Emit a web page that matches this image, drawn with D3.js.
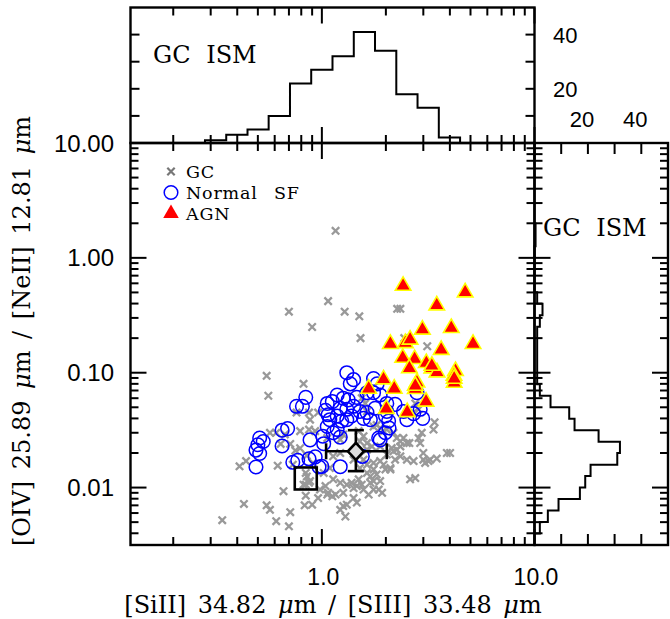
<!DOCTYPE html>
<html><head><meta charset="utf-8">
<script src="https://cdn.jsdelivr.net/npm/d3@7"></script>
<style>body{margin:0;background:#fff}</style>
</head><body><svg id="c" width="670" height="619"></svg>
<script>
// ---------------- data (ratios) ----------------
const gcPoints = [
[1.16,1.72],[1.07,0.42],[0.70,0.34],[1.28,0.34],[1.50,0.31],[0.90,0.25],[1.52,0.20],[2.26,0.36],[2.34,0.36],[3.13,0.17],
[2.44,0.20],[0.55,0.094],[0.56,0.063],[0.82,0.080],[0.87,0.045],[1.54,0.060],[1.60,0.054],[1.63,0.046],[2.75,0.054],[2.85,0.048],
[2.70,0.045],[3.39,0.037],[3.35,0.032],[0.76,0.045],[0.96,0.045],[0.88,0.039],[0.79,0.031],[0.87,0.032],[0.93,0.031],[0.61,0.030],
[0.67,0.029],[0.64,0.024],[0.71,0.024],[0.75,0.021],[0.79,0.022],[0.85,0.019],[0.57,0.030],[0.41,0.0153],[0.44,0.017],[0.62,0.0155],
[0.73,0.0158],[0.91,0.0164],[0.84,0.0134],[1.02,0.0134],[1.09,0.0148],[0.85,0.0125],[0.88,0.0114],[0.84,0.0106],[0.66,0.0093],[0.84,0.0085],
[0.98,0.0096],[1.04,0.0103],[1.07,0.0090],[0.96,0.0081],[1.06,0.0087],[1.12,0.0084],[1.13,0.0118],[1.22,0.0110],[1.31,0.0106],[0.43,0.0072],
[0.55,0.0070],[0.57,0.0064],[0.71,0.0061],[0.34,0.0052],[0.61,0.0051],[0.70,0.0046],[0.83,0.0070],[0.90,0.0071],[1.26,0.0069],[1.22,0.0064],
[1.31,0.0071],[1.29,0.0056],[1.41,0.0081],[1.46,0.0074],[1.38,0.0110],[1.46,0.0103],[1.54,0.0106],[1.49,0.0118],[1.57,0.0096],[1.41,0.0099],
[1.69,0.0125],[1.81,0.0130],[1.75,0.0114],[1.66,0.0087],[1.92,0.0090],[1.75,0.0096],[1.99,0.0144],[2.10,0.0148],[1.63,0.0158],[1.51,0.0148],
[1.75,0.034],[1.88,0.033],[2.02,0.032],[2.17,0.030],[2.25,0.027],[2.34,0.0252],[2.42,0.027],[2.51,0.0244],[2.34,0.0228],[2.25,0.0214],
[2.02,0.0194],[2.17,0.0207],[2.34,0.0187],[2.51,0.0175],[2.70,0.0170],[2.60,0.0118],[2.75,0.0121],[3.00,0.0175],[3.23,0.0175],[3.47,0.0179],
[2.85,0.027],[2.95,0.030],[2.90,0.0244],[3.87,0.020],[4.01,0.020],[1.26,0.029],[1.22,0.0261],[1.49,0.031],[1.57,0.028],[1.51,0.0252],
[1.63,0.0244],[1.06,0.027],[1.88,0.0228],[1.95,0.0158],[2.58,0.0244],[2.13,0.0221],[2.21,0.0175],[1.88,0.0170],[1.75,0.0164],[3.00,0.020],
[3.17,0.0170],[3.06,0.0164],[2.10,0.0144],[1.75,0.0144],[1.63,0.0134],[1.88,0.0114],[1.69,0.0110],[1.85,0.0096],[1.16,0.0087],[1.26,0.0090],
[1.63,0.0214],[1.72,0.0228],[1.81,0.035],[1.95,0.031],[1.22,0.020],[1.13,0.0187],[1.41,0.0175],[1.57,0.0175],[1.51,0.0187],[0.82,0.0106],
[0.87,0.0110]
];
const sfPoints = [
[0.49,0.0151],[0.49,0.0212],[0.51,0.0198],[0.50,0.0236],[0.51,0.027],[0.53,0.0252],[0.65,0.0316],[0.69,0.0326],[0.65,0.0230],[0.73,0.0166],
[0.77,0.0173],[0.87,0.0178],[0.93,0.0185],[0.97,0.0151],[0.88,0.026],[1.01,0.028],[1.02,0.0241],[0.76,0.051],[0.81,0.051],[0.84,0.061],
[1.06,0.054],[1.04,0.047],[1.07,0.043],[1.09,0.039],[1.12,0.056],[1.18,0.064],[1.26,0.060],[1.33,0.058],[1.46,0.061],[1.22,0.049],
[1.31,0.048],[1.41,0.051],[1.51,0.046],[1.63,0.045],[1.18,0.042],[1.24,0.038],[1.31,0.039],[1.38,0.042],[1.69,0.039],[1.57,0.040],
[1.75,0.067],[1.88,0.064],[1.78,0.049],[2.02,0.046],[2.21,0.053],[1.99,0.042],[2.06,0.038],[1.18,0.032],[1.13,0.030],[1.22,0.0275],
[1.88,0.026],[1.99,0.030],[2.07,0.033],[1.55,0.0187],[2.42,0.046],[2.70,0.044],[2.98,0.040],[2.90,0.048],[1.63,0.067],[1.31,0.100],
[1.41,0.087],[1.36,0.080],[1.75,0.089],[1.82,0.080],[1.22,0.0152],[1.00,0.0153],[2.51,0.039],[2.80,0.067],[2.02,0.054],[1.06,0.034],
[1.85,0.027]
];
const agnPoints = [
[2.41,0.571],[4.72,0.501],[3.47,0.386],[2.97,0.237],[4.06,0.245],[2.10,0.178],[2.47,0.181],[2.60,0.194],[3.64,0.158],[5.14,0.178],
[2.40,0.135],[2.73,0.1315],[2.58,0.1094],[3.10,0.1213],[3.29,0.109],[3.48,0.1007],[4.25,0.1035],[4.18,0.0942],[4.19,0.0818],[1.95,0.0875],
[2.80,0.0822],[2.75,0.0721],[2.19,0.0726],[1.66,0.0726],[3.09,0.056],[2.01,0.0484],[2.52,0.0454],[2.75,0.077],[3.29,0.115],[4.19,0.0887]
];
// mean GC value with spread (x, y, xLow, xHigh, yLow, yHigh)
const gcMean = [1.445, 0.0207, 1.047, 2.02, 0.0139, 0.0316];
const squarePoint = [0.84, 0.012];

// top histogram ([SiII]/[SIII] of GC ISM)
const topBinEdges = [0.282,0.355,0.447,0.562,0.708,0.891,1.122,1.413,1.778,2.239,2.818,3.548,4.467];
const topCounts   = [1,3,5,10,22,27,32,41,34,18,13,2];
// right histogram ([OIV]/[NeII] of GC ISM), edges from top to bottom
const rightBinEdges = [1.995,1.585,1.259,1.0,0.794,0.631,0.501,0.398,0.316,0.251,0.200,0.158,0.126,0.100,
  0.0794,0.0631,0.0501,0.0398,0.0316,0.0251,0.0200,0.0158,0.0126,0.0100,0.00794,0.00631,0.00501,0.00398];
const rightCounts = [0.4,0.4,0,0,0,0,1,3,2,1,1,1,1,1,2,6,13,15,24,32,31,21,19,17,9,5,2];

const xTickValues = [1, 10];
const xTickLabels = ["1.0", "10.0"];
const yTickValues = [0.01, 0.1, 1, 10];
const yTickLabels = ["0.01", "0.10", "1.00", "10.00"];
const countTickValues = [10, 20, 30, 40];
const countLabelValues = [20, 40];
const countLabels = ["20", "40"];
const legendLabels = ["GC", "Normal SF", "AGN"];
const histLabel = "GC ISM";

// ---------------- layout ----------------
const M = {l:130.5, r:534.5, t:143, b:545};
const TOPY = 7.5, RIGHTX = 668;
const svg = d3.select('#c');

const x = d3.scaleLog().domain([0.1259, 10]).range([M.l, M.r]);
const y = d3.scaleLog().domain([0.003162, 10]).range([M.b, M.t]);
const hTop = d3.scaleLinear().domain([0, 50]).range([M.t, TOPY]);
const hRight = d3.scaleLinear().domain([0, 50]).range([M.r, RIGHTX]);

const SANS = "'Liberation Sans', Arial, sans-serif";
const SERIF = "'DejaVu Serif', serif";
const isMajor = v => Math.abs(Math.log10(v) - Math.round(Math.log10(v))) < 1e-9;

const gT = svg.append('g').attr('stroke', '#000').attr('stroke-width', 2);
function tl(x1, y1, x2, y2) { gT.append('line').attr('x1', x1).attr('y1', y1).attr('x2', x2).attr('y2', y2); }

// log x ticks
x.ticks().forEach(v => {
  const L = isMajor(v) ? 16 : 8, p = x(v);
  tl(p, M.b, p, M.b - L); tl(p, M.t, p, M.t + L);
  tl(p, M.t, p, M.t - L); tl(p, TOPY, p, TOPY + L);
});
// log y ticks
y.ticks().forEach(v => {
  const L = isMajor(v) ? 16 : 8, p = y(v);
  tl(M.l, p, M.l + L, p); tl(M.r, p, M.r - L, p);
  tl(M.r, p, M.r + L, p); tl(RIGHTX, p, RIGHTX - L, p);
});
// count ticks
countTickValues.forEach(c => {
  tl(M.l, hTop(c), M.l + 9, hTop(c)); tl(M.r, hTop(c), M.r - 9, hTop(c));
  tl(hRight(c), M.t, hRight(c), M.t + 11); tl(hRight(c), M.b, hRight(c), M.b - 11);
});

// frames
const gF = svg.append('g').attr('fill', 'none').attr('stroke', '#000').attr('stroke-width', 2.4);
gF.append('rect').attr('x', M.l).attr('y', M.t).attr('width', M.r - M.l).attr('height', M.b - M.t);
gF.append('rect').attr('x', M.l).attr('y', TOPY).attr('width', M.r - M.l).attr('height', M.t - TOPY);
gF.append('rect').attr('x', M.r).attr('y', M.t).attr('width', RIGHTX - M.r).attr('height', M.b - M.t);

// histograms
let pTop = `M${x(topBinEdges[0])},${hTop(0)}`;
topCounts.forEach((c, i) => { pTop += `V${hTop(c)}H${x(topBinEdges[i + 1])}`; });
pTop += `V${hTop(0)}`;
svg.append('path').attr('d', pTop).attr('fill', 'none').attr('stroke', '#000').attr('stroke-width', 2);

let pRight = `M${hRight(0)},${y(rightBinEdges[0])}`;
rightCounts.forEach((c, i) => { pRight += `H${hRight(c)}V${y(rightBinEdges[i + 1])}`; });
pRight += `H${hRight(0)}`;
svg.append('path').attr('d', pRight).attr('fill', 'none').attr('stroke', '#000').attr('stroke-width', 2);

// histogram labels
svg.append('text').attr('x', 153).attr('y', 63).attr('font-family', SERIF).attr('font-size', 24)
  .attr('word-spacing', 8).text(histLabel);
svg.append('text').attr('x', 543).attr('y', 236).attr('font-family', SERIF).attr('font-size', 24)
  .attr('word-spacing', 8).text(histLabel);

// ---------------- scatter ----------------
const plot = svg.append('g');
const crossPath = 'M-3.7,-3.7L3.7,3.7M-3.7,3.7L3.7,-3.7';
plot.selectAll('path.gc').data(gcPoints).join('path').attr('class', 'gc')
  .attr('d', crossPath).attr('transform', d => `translate(${x(d[0])},${y(d[1])})`)
  .attr('stroke', '#999').attr('stroke-width', 2.3).attr('fill', 'none');
plot.selectAll('circle.sf').data(sfPoints).join('circle').attr('class', 'sf')
  .attr('cx', d => x(d[0])).attr('cy', d => y(d[1])).attr('r', 6.8)
  .attr('fill', 'none').attr('stroke', '#0000ff').attr('stroke-width', 1.5);
const tri = d3.symbol(d3.symbolTriangle, 105)();
plot.selectAll('path.agn').data(agnPoints).join('path').attr('class', 'agn')
  .attr('d', tri).attr('transform', d => `translate(${x(d[0])},${y(d[1])})`)
  .attr('fill', '#ff0000').attr('stroke', '#ffff00').attr('stroke-width', 1.6);

// square marker
const sq = 22;
plot.append('rect').attr('x', x(squarePoint[0]) - sq / 2).attr('y', y(squarePoint[1]) - sq / 2)
  .attr('width', sq).attr('height', sq).attr('fill', 'none').attr('stroke', '#000').attr('stroke-width', 2.6);

// mean with error bars
const [mx, my, xlo, xhi, ylo, yhi] = gcMean;
const eb = plot.append('g').attr('stroke', '#000').attr('stroke-width', 2.6);
eb.append('line').attr('x1', x(xlo)).attr('x2', x(xhi)).attr('y1', y(my)).attr('y2', y(my));
eb.append('line').attr('x1', x(mx)).attr('x2', x(mx)).attr('y1', y(ylo)).attr('y2', y(yhi));
eb.append('line').attr('x1', x(xlo)).attr('x2', x(xlo)).attr('y1', y(my) - 8).attr('y2', y(my) + 8);
eb.append('line').attr('x1', x(xhi)).attr('x2', x(xhi)).attr('y1', y(my) - 8).attr('y2', y(my) + 8);
eb.append('line').attr('x1', x(mx) - 8).attr('x2', x(mx) + 8).attr('y1', y(ylo)).attr('y2', y(ylo));
eb.append('line').attr('x1', x(mx) - 8).attr('x2', x(mx) + 8).attr('y1', y(yhi)).attr('y2', y(yhi));
plot.append('path').attr('d', 'M0,-8.5L8,0L0,8.5L-8,0Z')
  .attr('transform', `translate(${x(mx)},${y(my)})`)
  .attr('fill', '#dcdcdc').attr('stroke', '#000').attr('stroke-width', 2.6);

// ---------------- legend ----------------
const lg = svg.append('g');
const lgY = [171.5, 192.5, 213.5];
lg.append('path').attr('d', crossPath).attr('transform', `translate(171,${lgY[0]})`)
  .attr('stroke', '#777').attr('stroke-width', 2.2);
lg.append('circle').attr('cx', 171).attr('cy', lgY[1]).attr('r', 6.8).attr('fill', 'none')
  .attr('stroke', '#0000ff').attr('stroke-width', 1.5);
lg.append('path').attr('d', tri).attr('transform', `translate(171,${lgY[2]})`).attr('fill', '#ff0000');
legendLabels.forEach((t, i) => {
  lg.append('text').attr('x', 186).attr('y', lgY[i] + 6.5).attr('font-family', SERIF)
    .attr('font-size', 17.5).attr('letter-spacing', 0.8).attr('word-spacing', 10).text(t);
});

// ---------------- tick labels ----------------
const lab = svg.append('g').attr('font-family', SANS).attr('font-size', 24).attr('fill', '#000');
yTickValues.forEach((v, i) => {
  lab.append('text').attr('x', 114).attr('y', y(v) + 8.5).attr('text-anchor', 'end').text(yTickLabels[i]);
});
xTickValues.forEach((v, i) => {
  lab.append('text').attr('x', x(v) + 1.5).attr('y', 585).attr('font-size', 23)
    .attr('text-anchor', 'middle').text(xTickLabels[i]);
});
countLabelValues.forEach((c, i) => {
  lab.append('text').attr('x', 553).attr('y', hTop(c) + 8.5).attr('font-size', 22).text(countLabels[i]);
  lab.append('text').attr('x', hRight(c) - 6).attr('y', 127).attr('text-anchor', 'middle')
    .attr('font-size', 22).text(countLabels[i]);
});

// ---------------- axis titles ----------------
const xt = svg.append('text').attr('x', 333).attr('y', 613).attr('text-anchor', 'middle')
  .attr('font-family', SERIF).attr('font-size', 24).attr('word-spacing', 4);
xt.append('tspan').text('[SiII] 34.82 ');
xt.append('tspan').attr('font-style', 'italic').text('\u03bc');
xt.append('tspan').text('m / [SIII] 33.48 ');
xt.append('tspan').attr('font-style', 'italic').text('\u03bc');
xt.append('tspan').text('m');

const yt = svg.append('text').attr('transform', 'translate(30,331) rotate(-90)').attr('text-anchor', 'middle')
  .attr('font-family', SERIF).attr('font-size', 24).attr('word-spacing', 4);
yt.append('tspan').text('[OIV] 25.89 ');
yt.append('tspan').attr('font-style', 'italic').text('\u03bc');
yt.append('tspan').text('m / [NeII] 12.81 ');
yt.append('tspan').attr('font-style', 'italic').text('\u03bc');
yt.append('tspan').text('m');
</script></body></html>
